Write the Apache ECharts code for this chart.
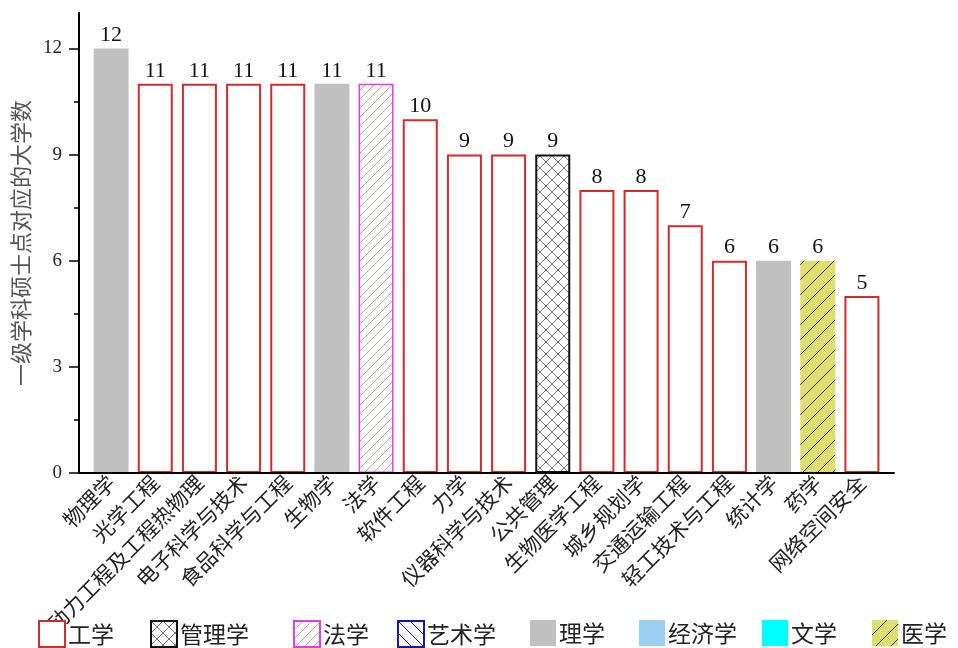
<!DOCTYPE html>
<html>
<head>
<meta charset="utf-8">
<script src="https://cdn.jsdelivr.net/npm/echarts@6/dist/echarts.min.js"></script>
<style>
html,body{margin:0;padding:0;background:#fff;}
#main{width:958px;height:648px;}
</style>
</head>
<body>
<div id="main"></div>
<script>
// ---- data ----
const categories = ['物理学','光学工程','动力工程及工程热物理','电子科学与技术','食品科学与工程','生物学','法学','软件工程','力学','仪器科学与技术','公共管理','生物医学工程','城乡规划学','交通运输工程','轻工技术与工程','统计学','药学','网络空间安全'];
const counts = [12,11,11,11,11,11,11,10,9,9,9,8,8,7,6,6,6,5];
const fields = ['理学','工学','工学','工学','工学','理学','法学','工学','工学','工学','管理学','工学','工学','工学','工学','理学','医学','工学'];
const legendNames = ['工学','管理学','法学','艺术学','理学','经济学','文学','医学'];
const yTicks = [0,3,6,9,12];
const yAxisName = '一级学科硕士点对应的大学数';

// ---- styles ----
function hatch(size, bg, lineColor, lw, dirs){
  const c = document.createElement('canvas');
  c.width = size; c.height = size;
  const g = c.getContext('2d');
  g.fillStyle = bg; g.fillRect(0,0,size,size);
  g.strokeStyle = lineColor; g.lineWidth = lw;
  for (const d of dirs){
    for (const k of [-size,0,size]){
      g.beginPath();
      if (d === '/'){ g.moveTo(k, size); g.lineTo(k+size, 0); }
      else { g.moveTo(k, 0); g.lineTo(k+size, size); }
      g.stroke();
    }
  }
  return {image:c, repeat:'repeat'};
}
const styles = {
  '工学':  {color:'#ffffff', borderColor:'#d42a2a', borderWidth:2},
  '管理学':{color:hatch(12,'#ffffff','#555',0.8,['/','\\']), borderColor:'#111', borderWidth:2},
  '法学':  {color:hatch(9,'#ffffff','#c9a3a3',1,['/']), borderColor:'#e23ce2', borderWidth:1.5},
  '艺术学':{color:hatch(12,'#ffffff','#1a1a8c',1,['\\']), borderColor:'#1a1aa0', borderWidth:2},
  '理学':  {color:'#c0c0c0', borderWidth:0},
  '经济学':{color:'#9dcff2', borderWidth:0},
  '文学':  {color:'#00ffff', borderWidth:0},
  '医学':  {color:hatch(15,'#dfdf70','#333',1,['/']), borderWidth:0}
};
const legendLeft = {'工学':38,'管理学':150,'法学':293,'艺术学':397,'理学':530,'经济学':639,'文学':762,'医学':872};

const serif = '"Liberation Serif","Times New Roman",serif';
const cjk = '"Noto Sans CJK SC","Noto Sans",sans-serif';

const series = legendNames.map(name => ({
  name: name,
  type: 'bar',
  xAxisIndex: 1,
  yAxisIndex: 1,
  barWidth: 35,
  barGap: '-100%',
  data: counts.map((v,i) => fields[i] === name ? v : null),
  itemStyle: styles[name],
  label: {show:true, position:'top', distance:2, fontFamily: serif, fontSize:22, color:'#111'}
}));

const legends = legendNames.map(name => ({
  data:[name], left: legendLeft[name], top: 620, padding:0,
  itemWidth:26, itemHeight:26, itemGap:0, icon:'rect', selectedMode:false,
  textStyle:{fontFamily:cjk, fontSize:23, color:'#222', padding:[0,0,0,-2]}
}));

const chart = echarts.init(document.getElementById('main'), null, {renderer:'canvas'});
chart.setOption({
  animation:false,
  backgroundColor:'#fff',
  legend: legends,
  grid:[
    {left:79, right:64, top:13, bottom:175},
    {left:89, right:74, top:13, bottom:175}
  ],
  xAxis:[
    {type:'value', gridIndex:0, min:0, max:1, z:5,
     axisLine:{show:true, lineStyle:{color:'#000', width:2}},
     axisTick:{show:false}, axisLabel:{show:false}, splitLine:{show:false}},
    {type:'category', gridIndex:1, data:categories,
     axisLine:{show:false}, axisTick:{show:false}, splitLine:{show:false},
     axisLabel:{interval:0, rotate:45, margin:6, fontFamily:cjk, fontSize:21, color:'#222'}}
  ],
  yAxis:[
    {type:'value', gridIndex:0, min:0, max:13, interval:3, z:5,
     name: yAxisName, nameLocation:'middle', nameGap:40,
     nameTextStyle:{fontFamily:cjk, fontSize:22, color:'#555'},
     axisLine:{show:true, lineStyle:{color:'#000', width:2}},
     axisTick:{show:true, length:10, customValues:yTicks, lineStyle:{color:'#000', width:1.5}},
     minorTick:{show:true, splitNumber:2, length:5, lineStyle:{color:'#000', width:1.5}},
     axisLabel:{customValues:yTicks, margin:17, fontFamily:serif, fontSize:19, color:'#222'},
     splitLine:{show:false}},
    {type:'value', gridIndex:1, min:0, max:13, show:false, splitLine:{show:false}}
  ],
  series: series
});
</script>
</body>
</html>
